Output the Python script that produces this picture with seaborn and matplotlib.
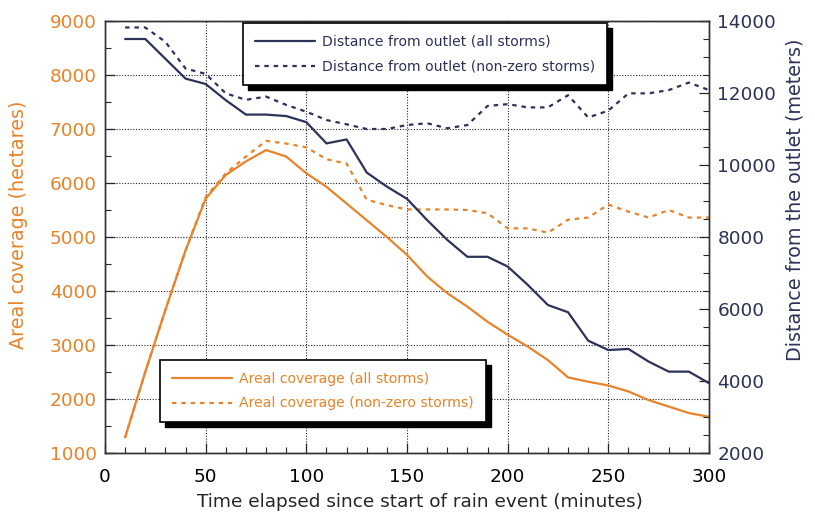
import numpy as np
import pandas as pd
import matplotlib
matplotlib.use("Agg")
import matplotlib.pyplot as plt
import seaborn as sns
from matplotlib.patches import Rectangle
from matplotlib.ticker import MultipleLocator

minutes = [10, 20, 30, 40, 50, 60, 70, 80, 90, 100, 110, 120, 130, 140, 150,
           160, 170, 180, 190, 200, 210, 220, 230, 240, 250, 260, 270, 280, 290, 300]

areal_all = [1290, 2500, 3650, 4750, 5710, 6150, 6400, 6610, 6490, 6180, 5930, 5620, 5310, 5000, 4670,
             4270, 3960, 3710, 3430, 3190, 2970, 2720, 2400, 2320, 2250, 2140, 1980, 1860, 1740, 1670]
areal_nonzero = [1290, 2500, 3650, 4750, 5740, 6180, 6490, 6780, 6730, 6660, 6440, 6360, 5690, 5590, 5510,
                 5510, 5510, 5500, 5440, 5160, 5160, 5080, 5320, 5360, 5600, 5470, 5360, 5500, 5360, 5360]
dist_all = [13500, 13500, 12950, 12400, 12250, 11800, 11400, 11400, 11360, 11190, 10600, 10710, 9790, 9400, 9060,
            8470, 7920, 7450, 7450, 7180, 6670, 6110, 5910, 5120, 4860, 4890, 4540, 4260, 4260, 3940]
dist_nonzero = [13820, 13820, 13420, 12680, 12530, 11990, 11810, 11900, 11670, 11480, 11250, 11130, 11000, 11000, 11110,
                11160, 11020, 11110, 11640, 11690, 11600, 11600, 11940, 11320, 11510, 11990, 11990, 12080, 12290, 12080]

df = pd.DataFrame({
    "minutes": minutes,
    "areal_all": areal_all,
    "areal_nonzero": areal_nonzero,
    "dist_all": dist_all,
    "dist_nonzero": dist_nonzero,
})

ORANGE = "#E8832A"
NAVY = "#2D3259"

sns.set_style("ticks")
plt.rcParams["font.family"] = ["DejaVu Sans"]

fig = plt.figure(figsize=(8.15, 5.14), dpi=100)
ax = fig.add_axes([105 / 815, 1 - 453 / 514, (709 - 105) / 815, (453 - 21) / 514])
ax2 = ax.twinx()

sns.lineplot(data=df, x="minutes", y="areal_all", ax=ax, color=ORANGE, lw=1.6,
             label="Areal coverage (all storms)", legend=False)
sns.lineplot(data=df, x="minutes", y="areal_nonzero", ax=ax, color=ORANGE, lw=1.6,
             linestyle=(0, (2, 2.2)), label="Areal coverage (non-zero storms)", legend=False)
sns.lineplot(data=df, x="minutes", y="dist_all", ax=ax2, color=NAVY, lw=1.6,
             label="Distance from outlet (all storms)", legend=False)
sns.lineplot(data=df, x="minutes", y="dist_nonzero", ax=ax2, color=NAVY, lw=1.6,
             linestyle=(0, (2, 2.2)), label="Distance from outlet (non-zero storms)", legend=False)

ax.set_xlim(0, 300)
ax.set_ylim(1000, 9000)
ax2.set_ylim(2000, 14000)

ax.xaxis.set_major_locator(MultipleLocator(50))
ax.xaxis.set_minor_locator(MultipleLocator(10))
ax.yaxis.set_major_locator(MultipleLocator(1000))
ax.yaxis.set_minor_locator(MultipleLocator(500))
ax2.yaxis.set_major_locator(MultipleLocator(2000))
ax2.yaxis.set_minor_locator(MultipleLocator(500))

ax.grid(True, which="major", color="#222222", linestyle=(0, (1, 1.5)), linewidth=0.8)
ax.set_axisbelow(True)

ax.tick_params(axis="both", which="major", direction="in", length=7, width=0.9, labelsize=13.3)
ax.tick_params(axis="both", which="minor", direction="in", length=4, width=0.8)
ax.tick_params(axis="x", labelcolor="black", top=False, pad=11)
ax.tick_params(axis="y", labelcolor=ORANGE, pad=6)
ax2.tick_params(axis="y", which="major", direction="in", length=7, width=0.9, labelsize=13.3,
                labelcolor=NAVY, pad=6)
ax2.tick_params(axis="y", which="minor", direction="in", length=4, width=0.8)

for a in (ax, ax2):
    for s in a.spines.values():
        s.set_visible(True)
        s.set_color("#333333")
        s.set_linewidth(1.0)

ax.set_xlabel("Time elapsed since start of rain event (minutes)", fontsize=13.3)
ax.set_ylabel("Areal coverage (hectares)", fontsize=13.8, color=ORANGE)
ax2.set_ylabel("Distance from the outlet (meters)", fontsize=13.8, color=NAVY)
ax.xaxis.set_label_coords((420 - 105) / 604, (453 - 493) / 432)
ax.yaxis.set_label_coords((28 - 105) / 604, (453 - 225) / 432)
ax2.yaxis.set_label_coords((785 - 105) / 604, (453 - 200) / 432)


def styled_legend(axis, handles, labels, anchor):
    leg = axis.legend(handles, labels, loc="upper left", bbox_to_anchor=anchor, frameon=True,
                      fancybox=False, framealpha=1, edgecolor="black", fontsize=10.1,
                      handlelength=4.3, handletextpad=0.5, borderpad=0.85,
                      labelspacing=0.75, borderaxespad=0)
    leg.get_frame().set_linewidth(1.2)
    for t, line in zip(leg.get_texts(), leg.get_lines()):
        t.set_color(line.get_color())
    return leg


h_top, l_top = ax2.get_legend_handles_labels()
h_bot, l_bot = ax.get_legend_handles_labels()
leg_top = styled_legend(ax2, h_top, l_top, ((243 - 105) / 604, 1 - (23 - 21) / 432))
leg_bot = styled_legend(ax2, h_bot, l_bot, ((160 - 105) / 604, 1 - (360 - 21) / 432))
ax2.add_artist(leg_top)
leg_top.set_zorder(6)
leg_bot.set_zorder(6)

fig.canvas.draw()
renderer = fig.canvas.get_renderer()
for leg in (leg_top, leg_bot):
    bb = leg.get_window_extent(renderer)
    sh = Rectangle((bb.x0 + 5, bb.y0 - 5), bb.width, bb.height, transform=None,
                   facecolor="black", edgecolor="black", zorder=5.5, clip_on=False)
    ax2.add_artist(sh)

fig.savefig("out.png", dpi=100)
